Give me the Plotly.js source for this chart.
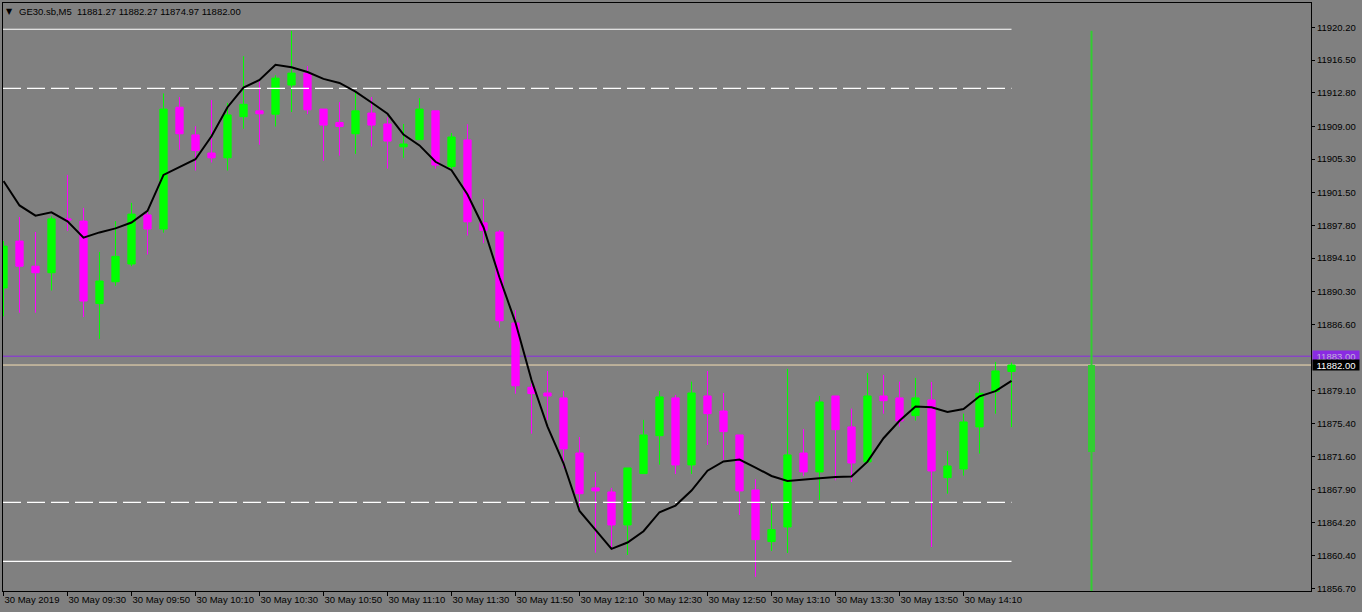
<!DOCTYPE html>
<html>
<head>
<meta charset="utf-8">
<script src="https://cdn.plot.ly/plotly-3.0.1.min.js"></script>
<style>
  html, body { margin: 0; padding: 0; background: #808080; }
  #chart { width: 1362px; height: 612px; }
</style>
</head>
<body>
<div id="chart"></div>
<script>
// ---- data (GE30.sb, M5, 30 May 2019, 09:10 .. 14:25) ----
const barIndex = Array.from({length: 64}, (_, i) => i);

const openP = [
  11890.72, 11896.02, 11893.18, 11892.44, 11898.53, 11898.28, 11888.95, 11891.42,
  11893.43, 11898.98, 11897.38, 11911.16, 11908.03, 11905.98, 11905.44, 11910.09,
  11910.75, 11910.38, 11913.67, 11915.02, 11910.95, 11909.43, 11908.16, 11910.50,
  11909.27, 11906.68, 11907.50, 11910.75, 11904.45, 11907.46, 11898.08, 11897.05,
  11886.76, 11879.48, 11878.84, 11878.28, 11872.05, 11868.10, 11867.64, 11863.91,
  11869.72, 11874.01, 11878.28, 11870.70, 11878.50, 11876.80, 11874.09, 11867.87,
  11862.03, 11863.68, 11872.05, 11869.91, 11878.50, 11875.00, 11871.04, 11878.50,
  11878.28, 11876.28, 11878.05, 11869.26, 11870.24, 11875.00, 11878.99, 11881.27
];
const highP = [
  11896.02, 11898.74, 11897.05, 11898.82, 11903.51, 11899.77, 11894.79, 11898.28,
  11900.34, 11899.64, 11912.72, 11912.31, 11909.02, 11911.98, 11911.65, 11916.92,
  11914.04, 11914.78, 11919.80, 11915.81, 11910.95, 11911.73, 11912.97, 11912.31,
  11910.01, 11909.27, 11912.19, 11910.75, 11908.24, 11909.23, 11900.79, 11897.26,
  11888.23, 11879.93, 11881.33, 11879.07, 11873.86, 11869.91, 11868.10, 11870.36,
  11875.79, 11879.07, 11878.61, 11880.12, 11881.33, 11878.84, 11874.09, 11869.08,
  11866.32, 11881.56, 11874.77, 11878.50, 11878.50, 11877.07, 11881.10, 11880.88,
  11880.12, 11880.54, 11880.08, 11872.28, 11876.50, 11880.08, 11882.35, 11882.27
];
const lowP = [
  11887.51, 11887.92, 11887.92, 11890.43, 11897.17, 11887.43, 11884.96, 11890.96,
  11893.18, 11894.50, 11896.97, 11906.35, 11904.00, 11904.91, 11904.00, 11908.73,
  11906.92, 11908.98, 11910.62, 11910.38, 11905.11, 11905.69, 11905.89, 11906.72,
  11904.21, 11905.44, 11907.46, 11904.21, 11904.17, 11896.64, 11895.78, 11886.23,
  11878.76, 11874.24, 11875.79, 11870.40, 11865.98, 11860.78, 11861.08, 11860.52,
  11869.72, 11870.73, 11869.68, 11869.68, 11872.96, 11871.26, 11865.04, 11858.03,
  11860.97, 11860.74, 11869.45, 11866.74, 11868.96, 11868.77, 11871.04, 11876.50,
  11875.03, 11875.71, 11861.42, 11867.45, 11869.49, 11871.98, 11876.50, 11874.97
];
const closeP = [
  11895.45, 11893.18, 11892.44, 11898.53, 11898.41, 11889.24, 11891.50, 11894.29,
  11899.07, 11897.38, 11910.95, 11908.16, 11906.26, 11905.44, 11910.29, 11911.49,
  11910.42, 11914.45, 11915.02, 11910.87, 11909.14, 11908.98, 11910.75, 11909.14,
  11907.33, 11907.00, 11910.95, 11904.62, 11907.79, 11898.20, 11897.22, 11887.01,
  11879.66, 11878.77, 11878.50, 11872.51, 11867.45, 11867.76, 11863.91, 11870.36,
  11874.09, 11878.39, 11870.70, 11878.84, 11876.50, 11874.47, 11867.76, 11862.25,
  11863.38, 11871.83, 11869.91, 11877.82, 11874.69, 11870.92, 11878.50, 11877.97,
  11875.67, 11878.28, 11870.02, 11870.58, 11875.56, 11878.80, 11881.33, 11882.00
];
const maLine = [
  11902.81, 11900.05, 11898.90, 11899.27, 11898.25, 11896.40, 11897.00, 11897.46,
  11898.12, 11899.44, 11903.50, 11904.37, 11905.28, 11907.87, 11911.16, 11913.38,
  11914.24, 11915.97, 11915.68, 11915.15, 11914.37, 11913.91, 11912.93, 11911.69,
  11910.42, 11908.07, 11906.84, 11904.99, 11904.04, 11901.29, 11897.59, 11891.90,
  11886.80, 11880.31, 11875.03, 11870.89, 11865.49, 11863.35, 11861.20, 11861.92,
  11863.20, 11865.35, 11866.10, 11867.80, 11870.05, 11871.10, 11871.30, 11870.40,
  11869.45, 11868.89, 11869.00, 11869.19, 11869.34, 11869.38, 11871.07, 11873.72,
  11875.70, 11877.30, 11877.22, 11876.69, 11877.03, 11878.46, 11879.05, 11880.20
];

// larger-timeframe candle drawn to the right of the bars
const bigCandleX = [68];
const bigCandleOpen = [11872.2];
const bigCandleClose = [11882.0];
const bigCandleHigh = [11919.8];
const bigCandleLow = [11855.0];

// horizontal levels
const solidLevels = [11919.98, 11859.80];
const dashedLevels = [11913.30, 11866.47];
const purpleLevel = 11883.00;
const bidLevel = 11882.00;

// axis ticks
const xTickPos = [0, 4, 8, 12, 16, 20, 24, 28, 32, 36, 40, 44, 48, 52, 56, 60];
const xTickLabels = ["30 May 2019", "30 May 09:30", "30 May 09:50", "30 May 10:10",
  "30 May 10:30", "30 May 10:50", "30 May 11:10", "30 May 11:30", "30 May 11:50",
  "30 May 12:10", "30 May 12:30", "30 May 12:50", "30 May 13:10", "30 May 13:30",
  "30 May 13:50", "30 May 14:10"];
const yTickVals = [11920.2, 11916.5, 11912.8, 11909.0, 11905.3, 11901.5, 11897.8,
  11894.1, 11890.3, 11886.6, 11879.1, 11875.4, 11871.6, 11867.9, 11864.2, 11860.4, 11856.7];

const headerText = "GE30.sb,M5  11881.27 11882.27 11874.97 11882.00";

// ---- chart ----
const FONT = "Liberation Sans, Arial, sans-serif";
const FS = 9.5;
const xRange = [-0.03125, 81.71875];
const yRange = [11856.44, 11922.95];
const lastBar = barIndex[barIndex.length - 1];

const traces = [];

solidLevels.forEach(v => traces.push({
  type: 'scatter', mode: 'lines', x: [xRange[0], lastBar], y: [v, v],
  line: {color: '#FFFFFF', width: 1.2}, hoverinfo: 'skip'
}));
dashedLevels.forEach(v => traces.push({
  type: 'scatter', mode: 'lines', x: [xRange[0], lastBar], y: [v, v],
  line: {color: '#FFFFFF', width: 1.2, dash: '18px,6px'}, hoverinfo: 'skip'
}));

traces.push({
  type: 'candlestick', x: barIndex, open: openP, high: highP, low: lowP, close: closeP,
  increasing: {line: {color: '#00FF00', width: 1}, fillcolor: '#00FF00'},
  decreasing: {line: {color: '#FF00FF', width: 1}, fillcolor: '#FF00FF'},
  whiskerwidth: 0, hoverinfo: 'skip'
});

traces.push({
  type: 'scatter', mode: 'lines', x: barIndex, y: maLine,
  line: {color: '#000000', width: 2}, hoverinfo: 'skip'
});

// big candle: wick + body
traces.push({
  type: 'scatter', mode: 'lines',
  x: [bigCandleX[0], bigCandleX[0]], y: [bigCandleLow[0], bigCandleHigh[0]],
  line: {color: '#32CD32', width: 2}, hoverinfo: 'skip'
});
traces.push({
  type: 'bar', x: bigCandleX, base: bigCandleOpen,
  y: bigCandleClose.map((c, i) => c - bigCandleOpen[i]),
  width: 0.44, marker: {color: '#32CD32', line: {width: 0}}, hoverinfo: 'skip'
});

const layout = {
  width: 1362, height: 612,
  margin: {l: 3, r: 51, t: 3, b: 21, pad: 0},
  paper_bgcolor: '#808080', plot_bgcolor: '#808080',
  showlegend: false, boxgap: 0.35, bargap: 0,
  font: {family: FONT, size: FS, color: '#000000'},
  xaxis: {
    range: xRange, type: 'linear', fixedrange: true,
    tickmode: 'array', tickvals: xTickPos, ticktext: xTickLabels,
    tickangle: 0, automargin: false,
    ticks: 'outside', ticklen: 4, tickwidth: 1, tickcolor: '#000000',
    ticklabelposition: 'outside right',
    tickfont: {family: FONT, size: FS, color: '#000000'},
    showgrid: false, zeroline: false,
    showline: true, mirror: true, linecolor: '#000000', linewidth: 1,
    rangeslider: {visible: false}
  },
  yaxis: {
    range: yRange, side: 'right', fixedrange: true, automargin: false,
    tickmode: 'array', tickvals: yTickVals, ticktext: yTickVals.map(v => v.toFixed(2)),
    ticks: 'outside', ticklen: 3, tickwidth: 1, tickcolor: '#000000',
    tickfont: {family: FONT, size: FS, color: '#000000'},
    showgrid: false, zeroline: false,
    showline: true, mirror: true, linecolor: '#000000', linewidth: 1
  },
  shapes: [
    {type: 'line', xref: 'paper', x0: 0, x1: 1, yref: 'y', y0: purpleLevel, y1: purpleLevel,
     line: {color: '#8A2BE2', width: 1}, layer: 'below'},
    {type: 'line', xref: 'paper', x0: 0, x1: 1, yref: 'y', y0: bidLevel, y1: bidLevel,
     line: {color: '#F5DEB3', width: 1}, layer: 'below'}
  ],
  annotations: [
    {xref: 'paper', yref: 'paper', x: 0.005, y: 0.986, xanchor: 'center', yanchor: 'middle',
     text: '▼', showarrow: false, font: {family: 'DejaVu Sans', size: 8, color: '#000000'}},
    {xref: 'paper', yref: 'paper', x: 0.0105, y: 0.986, xanchor: 'left', yanchor: 'middle',
     text: headerText, showarrow: false, font: {family: FONT, size: FS, color: '#000000'}},
    {xref: 'paper', yref: 'y', x: 1, xshift: 1, y: purpleLevel, xanchor: 'left', yanchor: 'middle',
     text: purpleLevel.toFixed(2), showarrow: false, bgcolor: '#8A2BE2', borderpad: 0,
     width: 46, height: 10, font: {family: FONT, size: FS, color: '#C0B0D8'}},
    {xref: 'paper', yref: 'y', x: 1, xshift: 1, y: bidLevel, xanchor: 'left', yanchor: 'middle',
     text: bidLevel.toFixed(2), showarrow: false, bgcolor: '#000000', borderpad: 0,
     width: 46, height: 10, font: {family: FONT, size: FS, color: '#FFFFFF'}}
  ]
};

Plotly.newPlot('chart', traces, layout, {staticPlot: true, displayModeBar: false});
</script>
</body>
</html>
